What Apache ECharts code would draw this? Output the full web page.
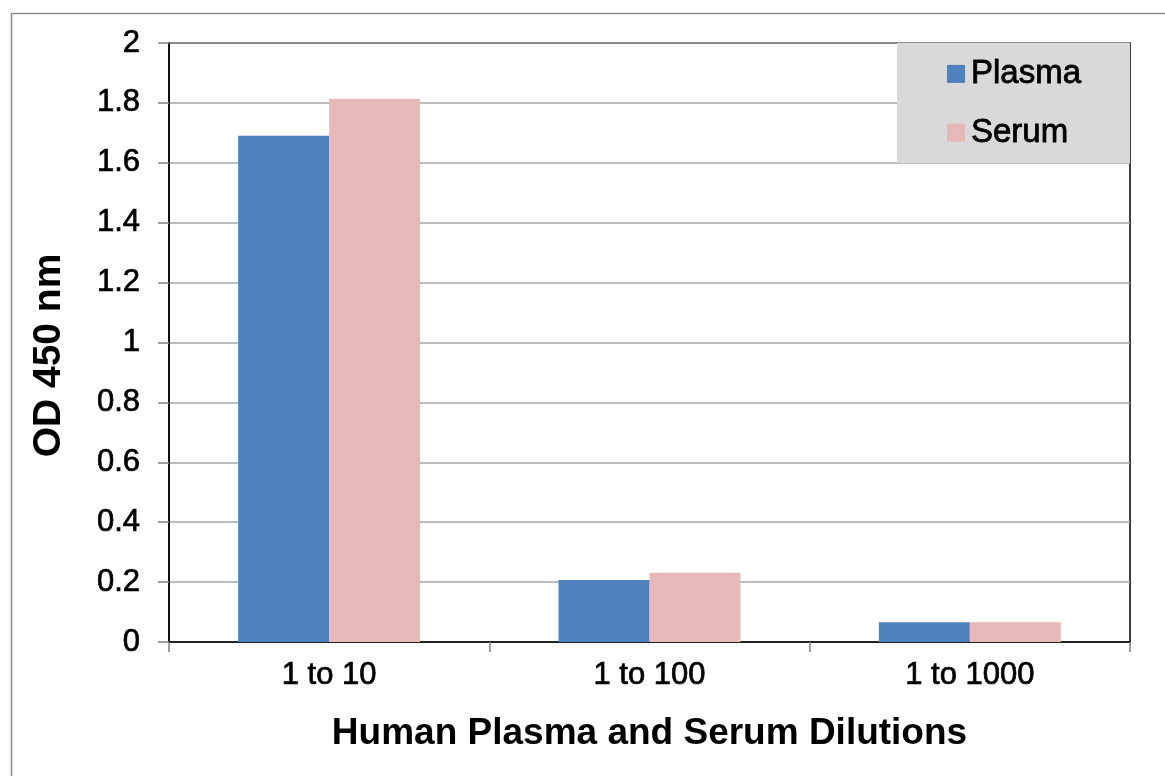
<!DOCTYPE html>
<html>
<head>
<meta charset="utf-8">
<script src="https://cdn.jsdelivr.net/npm/echarts@6/dist/echarts.min.js"></script>
<style>
html,body{margin:0;padding:0;background:#fff;}
#chart{width:1165px;height:776px;}
</style>
</head>
<body>
<div id="chart"></div>
<script>
const categories = ['1 to 10', '1 to 100', '1 to 1000'];
const plasma = [1.69, 0.207, 0.066];
const serum = [1.814, 0.231, 0.066];
const seriesNames = ['Plasma', 'Serum'];
const xTitle = 'Human Plasma and Serum Dilutions';
const yTitle = 'OD 450 nm';

const FONT = 'Arial, "Liberation Sans", sans-serif';
const chart = echarts.init(document.getElementById('chart'), null, {renderer: 'canvas'});
chart.setOption({
  animation: false,
  backgroundColor: '#ffffff',
  graphic: [
    {type: 'rect', left: 9, top: 11, shape: {width: 1200, height: 800},
     style: {fill: 'none', stroke: '#8c8c8c', lineWidth: 1.5}, z: -10},
    {type: 'rect', left: 897, top: 43, shape: {width: 233, height: 120},
     style: {fill: '#d9d9d9', stroke: 'none'}, z: 5}
  ],
  grid: {left: 169, right: 35, top: 43, bottom: 134, show: true,
         borderColor: '#000', borderWidth: 1.5, backgroundColor: 'transparent'},
  legend: {
    orient: 'vertical', left: 947, top: 57, padding: 0, itemGap: 25,
    itemWidth: 18, itemHeight: 18, itemStyle: {borderWidth: 0},
    textStyle: {fontFamily: FONT, fontSize: 33, color: '#000', padding: [0, 0, 0, 1],
                textBorderColor: '#000', textBorderWidth: 0.8},
    icon: 'rect', z: 10,
    data: seriesNames
  },
  xAxis: {
    type: 'category', data: categories,
    axisLine: {lineStyle: {color: '#000', width: 1.5}},
    axisTick: {show: true, length: 10, lineStyle: {color: '#808080', width: 1.5}},
    axisLabel: {margin: 18, fontFamily: FONT, fontSize: 31, color: '#000',
                textBorderColor: '#000', textBorderWidth: 0.7},
    name: xTitle, nameLocation: 'middle', nameGap: 73,
    nameTextStyle: {fontFamily: FONT, fontSize: 37, fontWeight: 'bold', color: '#000'}
  },
  yAxis: {
    type: 'value', min: 0, max: 2, interval: 0.2,
    axisLine: {show: true, lineStyle: {color: '#000', width: 1.5}},
    axisTick: {show: true, length: 11, lineStyle: {color: '#808080', width: 1.5}},
    axisLabel: {margin: 29, fontFamily: FONT, fontSize: 31, color: '#000',
                textBorderColor: '#000', textBorderWidth: 0.7},
    splitLine: {lineStyle: {color: '#a6a6a6', width: 1.5}},
    name: yTitle, nameLocation: 'middle', nameGap: 100, nameRotate: 90,
    nameTextStyle: {fontFamily: FONT, fontSize: 39, fontWeight: 'bold', color: '#000',
                    padding: [0, 26, 0, 0]}
  },
  series: [
    {name: seriesNames[0], type: 'bar', data: plasma, barWidth: 91, barGap: '0%',
     itemStyle: {color: '#4f81bd'}},
    {name: seriesNames[1], type: 'bar', data: serum, barWidth: 91, barGap: '0%',
     itemStyle: {color: '#e6b9b8'}}
  ]
});
</script>
</body>
</html>
